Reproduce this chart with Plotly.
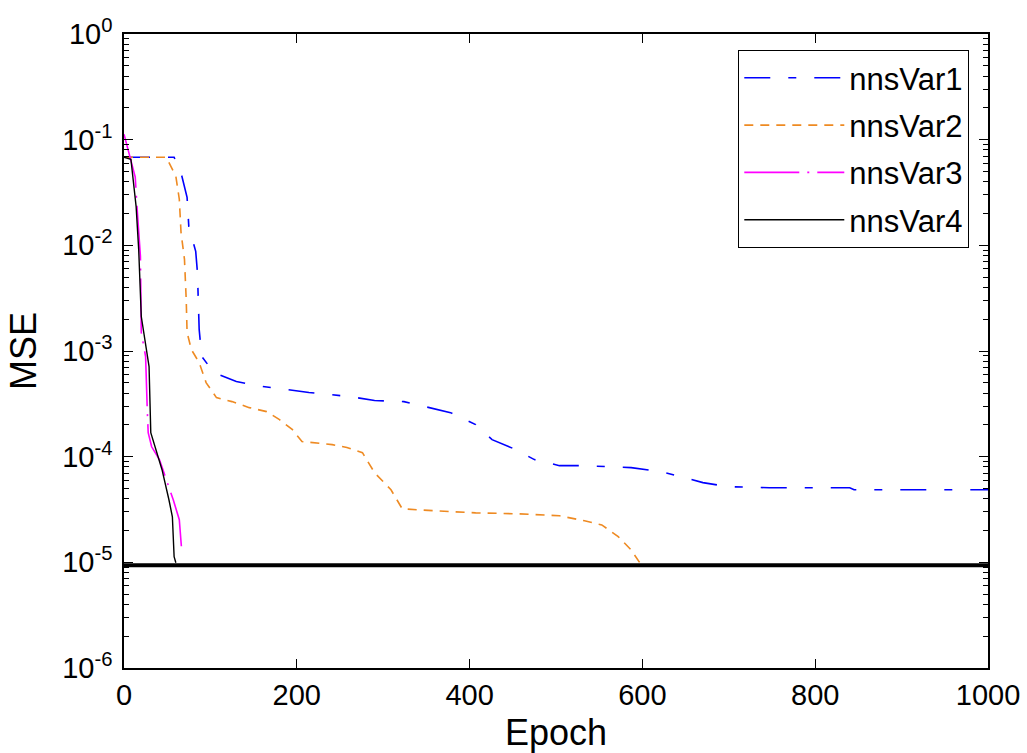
import plotly.graph_objects as go

# ---- data ----
ep1 = [0, 58, 60, 67, 73, 75, 83, 85, 87, 90, 104, 130, 153, 214, 261, 290, 324, 349, 378, 407,
       426, 451, 475, 504, 533, 587, 621, 645, 670, 699, 747, 840, 845, 1000]
mse1 = [0.0682, 0.0682, 0.0625, 0.0451, 0.0285, 0.0151, 8.77e-3, 5.55e-3, 1.60e-3, 8.87e-4,
        6.25e-4, 5.14e-4, 4.71e-4, 4.05e-4, 3.71e-4, 3.40e-4, 3.32e-4, 2.98e-4, 2.61e-4, 2.01e-4,
        1.45e-4, 1.19e-4, 9.38e-5, 8.22e-5, 8.22e-5, 7.87e-5, 7.21e-5, 6.46e-5, 5.68e-5, 5.20e-5,
        5.08e-5, 5.08e-5, 4.86e-5, 4.86e-5]

ep2 = [0, 49, 60, 64, 66, 70, 72, 73, 78, 87, 95, 107, 125, 145, 165, 180, 195, 206, 241, 258,
       276, 290, 309, 322, 358, 407, 455, 504, 533, 553, 572, 587, 597]
mse2 = [0.0682, 0.0682, 0.0451, 0.0273, 0.01327, 7.36e-3, 3.08e-3, 1.50e-3, 1.03e-3, 7.78e-4,
        5.02e-4, 3.62e-4, 3.32e-4, 2.91e-4, 2.67e-4, 2.24e-4, 1.80e-4, 1.39e-4, 1.30e-4, 1.22e-4,
        1.09e-4, 7.05e-5, 4.86e-5, 3.21e-5, 3.08e-5, 2.94e-5, 2.88e-5, 2.76e-5, 2.47e-5, 2.26e-5,
        1.75e-5, 1.31e-5, 9.9e-6]

ep3 = [0, 8, 13, 15, 19, 20, 25, 27, 28, 32, 41, 49, 57, 64, 67]
mse3 = [0.1127, 0.0653, 0.0442, 0.0234, 7.87e-3, 1.50e-3, 8.87e-4, 2.67e-4, 1.69e-4, 1.24e-4,
        9.38e-5, 6.05e-5, 3.91e-5, 2.53e-5, 1.23e-5]

ep4 = [0, 8, 14, 17, 20, 23, 29, 31, 35, 44, 52, 56, 58, 60]
mse4 = [0.0682, 0.0653, 0.0234, 9.16e-3, 2.12e-3, 1.50e-3, 7.13e-4, 1.69e-4, 1.30e-4, 7.53e-5,
        3.91e-5, 2.70e-5, 1.13e-5, 9.9e-6]

goal_ep = [0, 1000]
goal_mse = [9.4e-6, 9.4e-6]

names = ["nnsVar1", "nnsVar2", "nnsVar3", "nnsVar4"]
x_ticks = [0, 200, 400, 600, 800, 1000]
y_exps = [-6, -5, -4, -3, -2, -1, 0]
x_title = "Epoch"
y_title = "MSE"

FONT = "Liberation Sans, Arial, Helvetica, sans-serif"

fig = go.Figure()
fig.add_trace(go.Scatter(x=goal_ep, y=goal_mse, mode="lines", showlegend=False,
                         line=dict(color="black", width=4), hoverinfo="skip"))
styles = [
    dict(color="#0000FF", width=1.6, dash="26px,18px,8px,18px"),
    dict(color="#EE8A22", width=1.6, dash="9px,7px"),
    dict(color="#FF00FF", width=1.6, dash="55px,8px,2px,8px"),
    dict(color="black", width=1.4),
]
for i, (xs, ys) in enumerate([(ep1, mse1), (ep2, mse2), (ep3, mse3), (ep4, mse4)]):
    fig.add_trace(go.Scatter(x=xs, y=ys, mode="lines", name=names[i], line=styles[i],
                             legendgroup=names[i]))

minor_vals = [k * 10.0 ** d for d in range(-6, 0) for k in range(2, 10)]

fig.update_layout(
    width=1027, height=753,
    margin=dict(l=124, r=39, t=34, b=85, autoexpand=False),
    paper_bgcolor="white", plot_bgcolor="white",
    font=dict(family=FONT, color="black", size=28),
    showlegend=True,
    legend=dict(x=0.978, y=0.975, xanchor="right", yanchor="top",
                bordercolor="black", borderwidth=1.3, bgcolor="white",
                font=dict(size=31, family=FONT), tracegroupgap=4,
                itemwidth=100),
    xaxis=dict(range=[0, 1000], tickvals=x_ticks, ticktext=[str(v) for v in x_ticks],
               ticks="inside", ticklen=9, tickwidth=1, tickcolor="black",
               showline=True, linecolor="black", linewidth=1.5, mirror="ticks",
               showgrid=False, zeroline=False, automargin=False,
               tickfont=dict(size=29), ticklabeloverflow="allow"),
    yaxis=dict(type="log", range=[-6, 0],
               tickvals=[10.0 ** e for e in y_exps],
               ticktext=["10<sup>%d</sup>" % e for e in y_exps],
               ticks="inside", ticklen=9, tickwidth=1, tickcolor="black",
               showline=True, linecolor="black", linewidth=1.5, mirror="ticks",
               showgrid=False, zeroline=False, automargin=False,
               tickfont=dict(size=29), ticklabelstandoff=4, ticklabeloverflow="allow",
               minor=dict(tickmode="array", tickvals=minor_vals, ticks="inside",
                          ticklen=5, tickwidth=1, tickcolor="black", showgrid=False),
               title=dict(text=y_title, font=dict(size=36))),
    annotations=[dict(text=x_title, xref="paper", yref="paper", x=0.5, y=0,
                      xanchor="center", yanchor="middle", yshift=-64, showarrow=False,
                      font=dict(size=36, family=FONT, color="black"))],
)

fig.write_html("out.html", config={"displayModeBar": False},
               post_script="document.body.style.margin='0';document.body.style.overflow='hidden';")
